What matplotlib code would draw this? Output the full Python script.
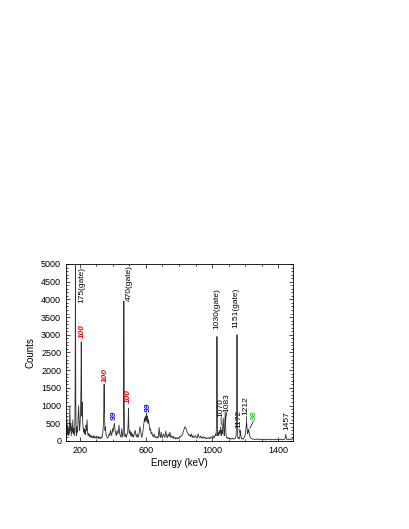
import matplotlib
matplotlib.use("Agg")
import matplotlib.pyplot as plt
from matplotlib.ticker import FixedLocator, MultipleLocator

plt.rcParams['font.family'] = ['Liberation Sans', 'DejaVu Sans']

# spectrum (energy in keV, counts)
energy = [120, 123, 126, 129, 132, 135, 138, 141, 144, 147, 150, 153, 156, 159, 162, 165, 168, 171,
          173, 175, 177, 179, 182, 185, 188, 191, 194, 197, 200, 203, 206, 208, 210, 212, 214, 216,
          218, 221, 224, 227, 230, 233, 236, 239, 242, 245, 248, 251, 255, 259, 263, 267, 271, 275,
          279, 283, 287, 291, 295, 299, 303, 307, 311, 315, 319, 323, 327, 331, 335, 339, 343, 346,
          348, 350, 353, 356, 359, 362, 366, 370, 374, 378, 382, 386, 390, 394, 398, 402, 406, 410,
          414, 418, 422, 426, 430, 434, 438, 442, 446, 450, 454, 458, 461, 464, 466, 467, 469, 471,
          474, 478, 482, 486, 490, 493, 495, 497, 500, 504, 508, 512, 516, 520, 524, 528, 532, 536,
          540, 544, 548, 552, 556, 560, 564, 568, 572, 576, 580, 584, 588, 592, 595, 598, 601, 604,
          607, 610, 613, 616, 620, 624, 628, 632, 636, 640, 645, 650, 655, 660, 665, 670, 675, 680,
          684, 688, 692, 696, 700, 705, 710, 715, 720, 725, 730, 735, 740, 745, 750, 755, 760, 765,
          770, 775, 780, 785, 790, 795, 800, 805, 810, 815, 820, 825, 830, 835, 840, 845, 850, 855,
          860, 865, 870, 875, 880, 885, 890, 895, 900, 905, 910, 915, 920, 925, 930, 935, 940, 945,
          950, 955, 960, 965, 970, 975, 980, 985, 990, 995, 1000, 1005, 1010, 1015, 1020, 1024, 1027,
          1029, 1031, 1033, 1036, 1040, 1044, 1048, 1052, 1055, 1058, 1061, 1064, 1067, 1070, 1073,
          1076, 1079, 1082, 1085, 1089, 1093, 1097, 1101, 1105, 1109, 1113, 1117, 1121, 1125, 1129,
          1133, 1137, 1141, 1145, 1148, 1150, 1152, 1154, 1157, 1160, 1164, 1168, 1171, 1174, 1178,
          1182, 1186, 1190, 1194, 1198, 1202, 1205, 1208, 1211, 1214, 1217, 1220, 1223, 1226, 1230,
          1235, 1240, 1245, 1250, 1255, 1260, 1265, 1270, 1275, 1280, 1285, 1290, 1295, 1300, 1305,
          1310, 1315, 1320, 1325, 1330, 1335, 1340, 1345, 1350, 1355, 1360, 1365, 1370, 1375, 1380,
          1385, 1390, 1395, 1400, 1405, 1410, 1415, 1420, 1425, 1430, 1435, 1440, 1444, 1447, 1450,
          1455, 1460, 1465, 1470, 1475, 1480, 1485, 1490]
counts = [80, 600, 200, 450, 150, 350, 200, 1000, 300, 500, 150, 400, 250, 600, 200, 350, 150, 300,
          1500, 4950, 1200, 250, 150, 400, 250, 700, 1000, 600, 300, 500, 900, 1500, 2800, 1400, 700, 1100,
          600, 400, 250, 350, 200, 300, 180, 450, 300, 600, 250, 150, 220, 120, 180, 100, 150, 90,
          130, 80, 160, 90, 120, 70, 140, 100, 60, 130, 80, 100, 60, 120, 90, 200, 400, 900,
          1600, 800, 300, 400, 200, 150, 100, 80, 120, 200, 150, 300, 200, 150, 350, 250, 400, 500,
          300, 200, 150, 300, 200, 250, 450, 200, 150, 100, 350, 150, 120, 300, 1500, 3950, 1200, 200,
          120, 200, 100, 180, 250, 500, 930, 400, 200, 300, 150, 250, 120, 200, 100, 180, 250, 300,
          150, 120, 200, 100, 130, 250, 400, 300, 150, 100, 200, 350, 500, 650, 550, 700, 600, 790,
          550, 700, 500, 600, 450, 300, 350, 200, 250, 150, 120, 200, 100, 130, 80, 120, 90, 380,
          150, 100, 250, 120, 80, 200, 150, 100, 280, 130, 90, 200, 120, 250, 100, 150, 80, 130,
          70, 110, 60, 90, 60, 100, 70, 130, 110, 150, 180, 250, 320, 400, 380, 300, 250, 200,
          150, 180, 120, 200, 100, 150, 90, 120, 160, 100, 80, 200, 120, 90, 140, 80, 110, 70,
          120, 80, 100, 60, 90, 70, 100, 60, 110, 80, 100, 150, 80, 120, 200, 150, 600,
          2950, 800, 150, 250, 150, 300, 200, 400, 150, 300, 200, 450, 650, 300, 150,
          500, 830, 300, 120, 80, 100, 60, 90, 60, 80, 50, 70, 60, 80, 50,
          70, 60, 90, 150, 800, 3000, 900, 120, 70, 90, 60, 150, 300, 120, 60,
          80, 50, 70, 100, 150, 250, 400, 500, 350, 200, 250, 330, 250, 150, 100,
          80, 60, 50, 60, 40, 50, 40, 60, 45, 55, 40, 50, 35, 55, 40,
          50, 35, 45, 30, 50, 40, 55, 35, 45, 30, 50, 40, 35, 50, 30,
          45, 35, 50, 30, 45, 35, 55, 40, 30, 50, 40, 60, 190, 120, 50,
          40, 60, 35, 50, 40, 55, 70, 40]

# peak labels: text, x, y of text bottom, colour, bold-italic
lbl_text = ['175(gate)', '100', '100', '99', '470(gate)', '100', '99',
            '1030(gate)', '1070', '1083', '1151(gate)', '1172', '1212', '98', '1457']
lbl_x = [213, 218, 356, 411, 503, 492, 612, 1028, 1051, 1091, 1146, 1160, 1202, 1253, 1452]
lbl_y = [3900, 2900, 1680, 590, 3950, 1080, 830, 3150, 690, 830, 3200, 360, 720, 590, 300]
lbl_color = ['black', 'red', 'red', 'blue', 'black', 'red', 'blue',
             'black', 'black', 'black', 'black', 'black', 'black', '#33cc33', 'black']
lbl_bold = [False, True, True, True, False, True, True,
            False, False, False, False, False, False, True, False]

# leader lines: from (x0, y0) under the label to (x1, y1) at the peak
lead_x0 = [1053, 1087, 1162, 1206, 1249]
lead_y0 = [660, 800, 330, 690, 560]
lead_x1 = [1055, 1080, 1168, 1208, 1228]
lead_y1 = [460, 540, 220, 430, 360]

fig = plt.figure(figsize=(4.09, 5.29), dpi=100)
ax = fig.add_axes([0.1614, 0.1664, 0.555, 0.3346])

ax.plot(energy, counts, color='0.2', lw=0.6)

for t, x, y, c, b in zip(lbl_text, lbl_x, lbl_y, lbl_color, lbl_bold):
    ax.text(x, y, t, rotation=90, ha='center', va='bottom', fontsize=6, color=c,
            fontweight='bold' if b else 'normal', fontstyle='italic' if b else 'normal')

for x0, y0, x1, y1 in zip(lead_x0, lead_y0, lead_x1, lead_y1):
    ax.plot([x0, x1], [y0, y1], color='black', lw=0.5)

ax.set_xlim(118, 1488)
ax.set_ylim(0, 5000)
ax.xaxis.set_major_locator(FixedLocator([200, 600, 1000, 1400]))
ax.xaxis.set_minor_locator(MultipleLocator(100))
ax.yaxis.set_major_locator(MultipleLocator(500))
ax.yaxis.set_minor_locator(MultipleLocator(100))
ax.tick_params(which='both', direction='in', top=True, right=True, labelsize=6.5, width=0.5)
ax.tick_params(which='major', length=3)
ax.tick_params(which='minor', length=1.5)
for spine in ax.spines.values():
    spine.set_linewidth(0.6)

ax.set_xlabel('Energy (keV)', fontsize=7, labelpad=2)
ax.set_ylabel('Counts', fontsize=7, labelpad=4)

fig.savefig('out.png', dpi=100)
